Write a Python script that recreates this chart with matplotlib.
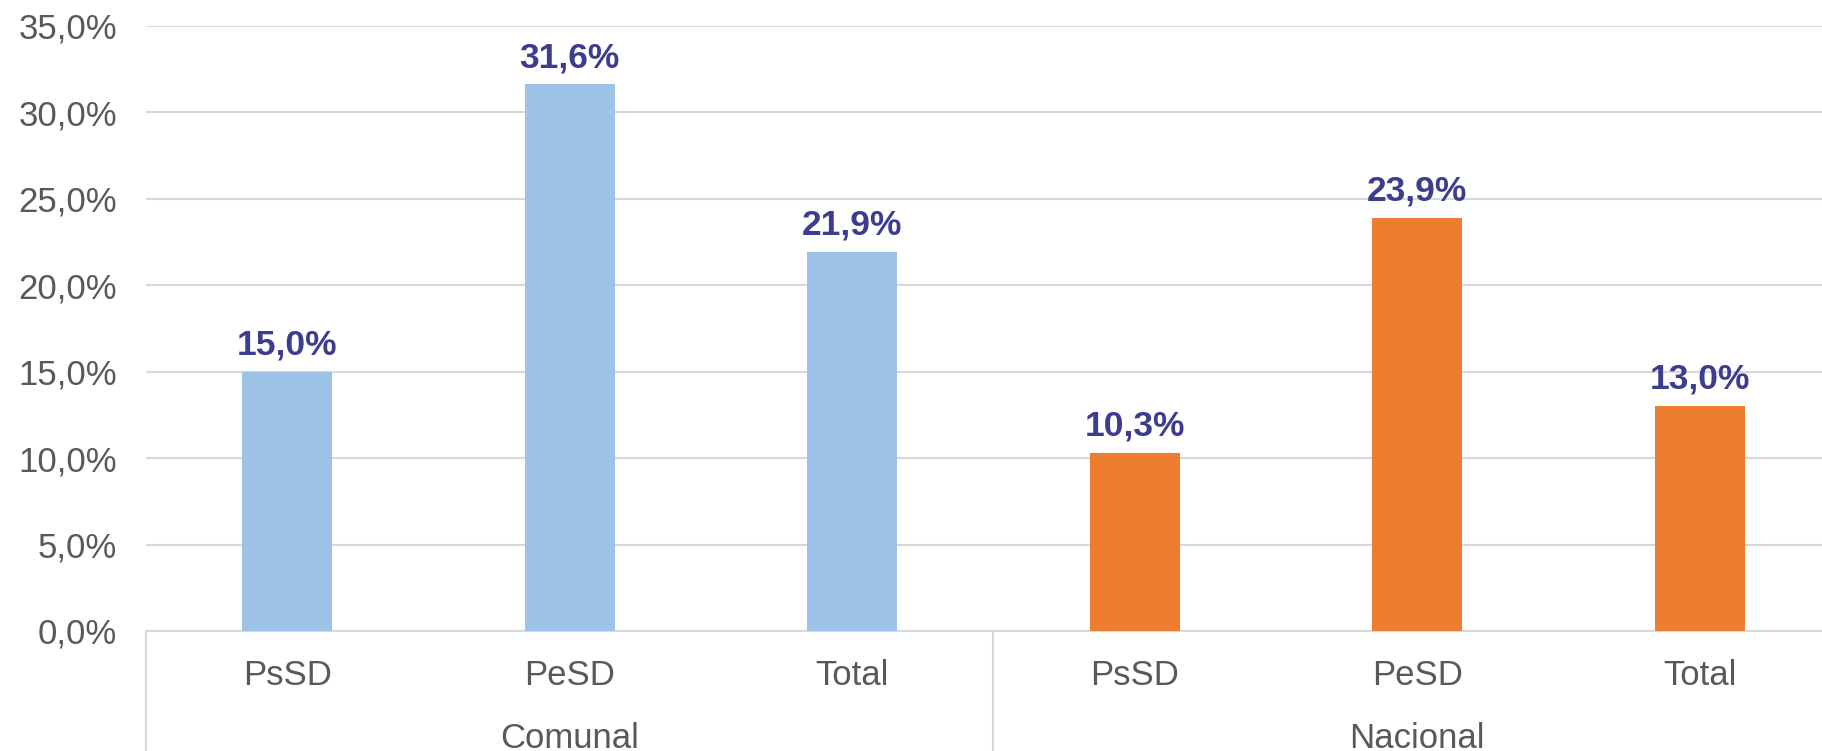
import numpy as np
import matplotlib.pyplot as plt
import matplotlib.transforms as mtransforms

plt.rcParams['font.family'] = ['Liberation Sans', 'DejaVu Sans']

groups = ['Comunal', 'Nacional']
categories = ['PsSD', 'PeSD', 'Total']
comunal = [15.0, 31.6, 21.9]
nacional = [10.3, 23.9, 13.0]
yticks = [0, 5, 10, 15, 20, 25, 30, 35]

blue = '#9DC3E6'
orange = '#ED7D31'
label_color = '#3D3D8F'
text_color = '#595959'
grid_color = '#D9D9D9'

W, H = 1822, 751
left_px, right_px = 146, 1841
top_px, base_px = 25.6, 631

fig = plt.figure(figsize=(W / 100, H / 100), dpi=100)
ax = fig.add_axes([left_px / W, (H - base_px) / H, (right_px - left_px) / W, (base_px - top_px) / H])

values = comunal + nacional
colors = [blue] * len(comunal) + [orange] * len(nacional)
x = np.arange(len(values))
ax.bar(x, values, width=0.317, color=colors, zorder=3)

for xi, v in zip(x, values):
    ax.text(xi, v + 0.6, f'{v:.1f}%'.replace('.', ','), ha='center', va='bottom',
            fontsize=25.5, fontweight='bold', color=label_color)

ax.set_xlim(-0.5, len(values) - 0.5)
ax.set_ylim(0, 35)
ax.set_yticks(yticks)
ax.set_yticklabels([f'{t:.1f}%'.replace('.', ',') for t in yticks])
ax.yaxis.grid(True, color=grid_color, linewidth=1.5, zorder=0)
ax.set_axisbelow(True)

ax.set_xticks(x)
ax.set_xticklabels(categories * len(groups))
ax.tick_params(axis='x', length=0, pad=20, labelsize=25, labelcolor=text_color)
ax.tick_params(axis='y', length=0, pad=21, labelsize=25, labelcolor=text_color)

for s in ['top', 'right', 'left']:
    ax.spines[s].set_visible(False)
ax.spines['bottom'].set_color(grid_color)
ax.spines['bottom'].set_linewidth(1.5)

# group separators below the axis
axh = (base_px - top_px) / H
ybot = -((H - base_px) / H) / axh
for i in range(len(groups) + 1):
    ax.axvline(i * len(categories) - 0.5, ymin=ybot, ymax=0, color=grid_color,
               linewidth=1.5, clip_on=False)

trans = mtransforms.blended_transform_factory(ax.transData, fig.transFigure)
for i, g in enumerate(groups):
    ax.text(i * len(categories) + (len(categories) - 1) / 2, 13 / H, g,
            transform=trans, ha='center', va='center', fontsize=25, color=text_color)

fig.savefig('out.png', dpi=100)
